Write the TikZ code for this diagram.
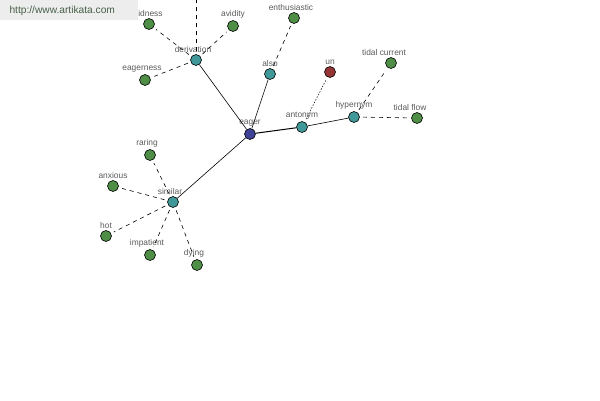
\documentclass[tikz,border=0pt]{standalone}
\usepackage{fontspec}
\setmainfont{Liberation Sans}
\usetikzlibrary{arrows.meta}

\definecolor{hubblue}{RGB}{62,66,150}
\definecolor{reltteal}{RGB}{64,152,152}
\definecolor{leafgreen}{RGB}{78,142,70}
\definecolor{antired}{RGB}{150,52,52}
\definecolor{txtgray}{RGB}{90,90,90}
\definecolor{sitegreen}{RGB}{70,95,70}

\tikzset{
  word/.style={shape=circle, draw=black, line width=0.6pt, minimum size=11pt, inner sep=0pt},
  wlabel/.style={font=\fontsize{8.4}{9}\selectfont, text=txtgray, label distance=-2pt},
  llabel/.style={wlabel, xshift=-3pt},
  hub/.style={word, fill=hubblue},
  rel/.style={word, fill=reltteal},
  leaf/.style={word, fill=leafgreen},
  anti/.style={word, fill=antired},
  link/.style={line width=0.6pt},
  weak/.style={line width=0.6pt, dash pattern=on 4pt off 4pt, shorten <=3pt, shorten >=3pt},
  fine/.style={line width=0.5pt, dash pattern=on 1.5pt off 1.5pt, shorten <=3pt, shorten >=3pt}
}

\begin{document}
\begin{tikzpicture}[x=1pt, y=-1pt]
        \useasboundingbox (0,0) rectangle (600,400);
        \clip (0,0) rectangle (600,400);

        % centre and relations
        \node[hub, label={[wlabel]above:eager}] (eager) at (250,134) {};
        \node[rel, label={[llabel]above:derivation}] (deriv) at (196,60) {};
        \node[rel, label={[wlabel]above:also}] (also) at (270,74) {};
        \node[rel, label={[wlabel]above:antonym}] (anto) at (302,127) {};
        \node[rel, label={[wlabel]above:hypernym}] (hyper) at (354,117) {};
        \node[rel, label={[llabel]above:similar}] (simil) at (173,202) {};

        % words
        \node[leaf, label={[llabel]above:avidness}] (avidness) at (149,24) {};
        \node[leaf, label={[wlabel]above:avidity}] (avidity) at (233,26) {};
        \node[leaf, label={[llabel]above:eagerness}] (eagerness) at (145,80) {};
        \node[leaf, label={[llabel]above:enthusiastic}] (enthus) at (294,18) {};
        \node[anti, label={[wlabel]above:un}] (un) at (330,72) {};
        \node[leaf, label={[llabel, xshift=-4pt]above:tidal current}] (tcurrent) at (391,63) {};
        \node[leaf, label={[llabel, xshift=-4pt]above:tidal flow}] (tflow) at (417,118) {};
        \node[leaf, label={[llabel]above:raring}] (raring) at (150,155) {};
        \node[leaf, label={[wlabel]above:anxious}] (anxious) at (113,186) {};
        \node[leaf, label={[wlabel]above:hot}] (hot) at (106,236) {};
        \node[leaf, label={[llabel]above:impatient}] (impat) at (150,255) {};
        \node[leaf, label={[llabel]above:dying}] (dying) at (197,265) {};
        \coordinate (offtop) at (196,-10);

        \draw[link] (eager) -- (deriv);
        \draw[link] (eager) -- (also);
        \draw[link, line width=1pt] (eager) -- (anto);
        \draw[link] (anto) -- (hyper);
        \draw[link] (eager) -- (simil);

        \draw[weak] (deriv) -- (offtop);
        \draw[weak] (deriv) -- (avidness);
        \draw[weak] (deriv) -- (avidity);
        \draw[weak] (deriv) -- (eagerness);
        \draw[weak] (also) -- (enthus);
        \draw[fine] (anto) -- (un);
        \draw[weak] (hyper) -- (tcurrent);
        \draw[weak] (hyper) -- (tflow);
        \draw[weak] (simil) -- (raring);
        \draw[weak] (simil) -- (anxious);
        \draw[weak] (simil) -- (hot);
        \draw[weak] (simil) -- (impat);
        \draw[weak] (simil) -- (dying);

        % watermark
        \fill[black!7] (0,0) rectangle (138,20);
        \node[font=\fontsize{10.2}{12}\selectfont, text=sitegreen, anchor=west] (site) at (6,11) {http://www.artikata.com};
    \end{tikzpicture}
\end{document}
